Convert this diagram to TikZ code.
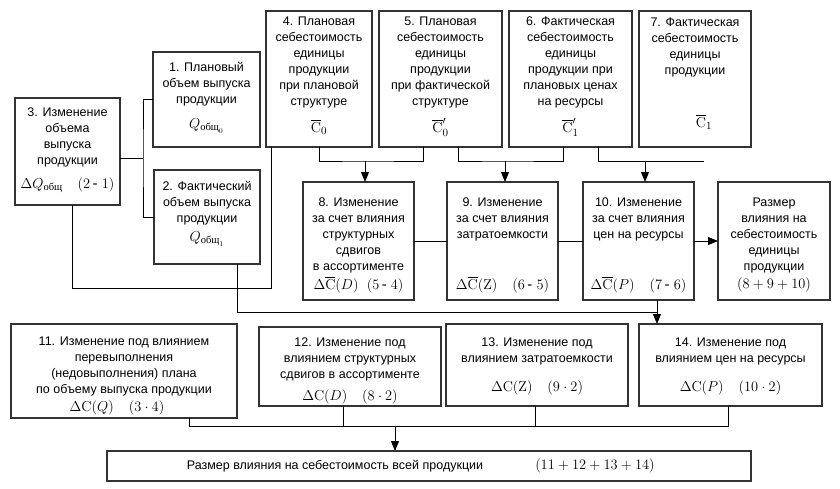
\documentclass[tikz,border=0pt]{standalone}
\usepackage{amsmath}
\usepackage[no-math]{fontspec}
\setmainfont{Liberation Sans}
\newfontfamily\cyrserif{Liberation Serif}
\usetikzlibrary{arrows.meta}
\newcommand{\obsh}{\text{\cyrserif общ}}
\newcommand{\Cb}{\overline{\mathrm{C}}}

\begin{document}
\begin{tikzpicture}[x=1pt,y=-1pt,>={Triangle[length=10pt,width=8pt]},
  font=\fontsize{12.5}{16}\selectfont,line width=0.9pt,
  blk/.style={draw=black!80,line width=1.6pt,inner sep=0pt,outer sep=0pt},
  txt/.style={align=center,inner sep=0pt},
  frm/.style={inner sep=0pt,font=\fontsize{15}{16}\selectfont}]
\useasboundingbox (0,0) rectangle (840,488);
% boxes
\node[blk,minimum width=105pt,minimum height=107pt] (b3) at (67.5,151.5) {};
\node[blk,minimum width=107pt,minimum height=95pt] (b1) at (206.5,99.5) {};
\node[blk,minimum width=106pt,minimum height=94pt] (b2) at (207,217) {};
\node[blk,minimum width=106pt,minimum height=136pt] (b4) at (319,79) {};
\node[blk,minimum width=123pt,minimum height=136pt] (b5) at (440.5,79) {};
\node[blk,minimum width=123pt,minimum height=136pt] (b6) at (570.5,79) {};
\node[blk,minimum width=112pt,minimum height=136pt] (b7) at (695,79) {};
\node[blk,minimum width=111pt,minimum height=118pt] (b8) at (358.5,241) {};
\node[blk,minimum width=111pt,minimum height=118pt] (b9) at (502.5,241) {};
\node[blk,minimum width=111pt,minimum height=118pt] (b10) at (638.5,241) {};
\node[blk,minimum width=112pt,minimum height=118pt] (bsum) at (774,241) {};
\node[blk,minimum width=226pt,minimum height=94pt] (b11) at (124,371) {};
\node[blk,minimum width=182pt,minimum height=79pt] (b12) at (350,366.5) {};
\node[blk,minimum width=182pt,minimum height=82pt] (b13) at (537,365) {};
\node[blk,minimum width=183pt,minimum height=82pt] (b14) at (730.5,365) {};
\node[blk,minimum width=644pt,minimum height=30pt] (btot) at (429,466) {};
% texts
\node[txt] (t3) at (67.5,137) {3. Изменение\\объема\\выпуска\\продукции};
\node[frm] (f3) at (67.5,185) {$\Delta Q_{\obsh}\quad(2\,\text{-}\ 1)$};
\node[txt] (t1) at (206.5,84) {1. Плановый\\объем выпуска\\продукции};
\node[frm] (f1) at (206.5,126) {$Q_{\obsh_0}$};
\node[txt] (t2) at (207,203) {2. Фактический\\объем выпуска\\продукции};
\node[frm] (f2) at (207,239) {$Q_{\obsh_1}$};
\node[txt] (t4) at (319,62.5) {4. Плановая\\себестоимость\\единицы\\продукции\\при плановой\\структуре};
\node[frm] (f4) at (319,127) {$\Cb_0$};
\node[txt] (t5) at (440.5,62.5) {5. Плановая\\себестоимость\\единицы\\продукции\\при фактической\\структуре};
\node[frm] (f5) at (440.5,127) {$\Cb_0'$};
\node[txt] (t6) at (570.5,62.5) {6. Фактическая\\себестоимость\\единицы\\продукции при\\плановых ценах\\на ресурсы};
\node[frm] (f6) at (570.5,127) {$\Cb_1'$};
\node[txt] (t7) at (695,47.5) {7. Фактическая\\себестоимость\\единицы\\продукции};
\node[frm] (f7) at (704,122) {$\Cb_1$};
\node[txt] (t8) at (358.5,235) {8. Изменение\\за счет влияния\\структурных\\сдвигов\\в ассортименте};
\node[frm] (f8) at (358.5,285) {$\Delta\Cb(D)\ \ (5\,\text{-}\ 4)$};
\node[txt] (t9) at (502.5,219) {9. Изменение\\за счет влияния\\затратоемкости};
\node[frm] (f9) at (502.5,285) {$\Delta\Cb(\mathrm{Z})\quad(6\,\text{-}\ 5)$};
\node[txt] (t10) at (638.5,219) {10. Изменение\\за счет влияния\\цен на ресурсы};
\node[frm] (f10) at (638.5,285) {$\Delta\Cb(P)\quad(7\,\text{-}\ 6)$};
\node[txt] (tsum) at (774,235) {Размер\\влияния на\\себестоимость\\единицы\\продукции};
\node[frm] (fsum) at (774,285) {$(8+9+10)$};
\node[txt] (t11) at (124,366.5) {11. Изменение под влиянием\\перевыполнения\\(недовыполнения) плана\\по объему выпуска продукции};
\node[frm] (f11) at (117,408) {$\Delta\mathrm{C}(Q)\quad(3\cdot4)$};
\node[txt] (t12) at (350,359) {12. Изменение под\\влиянием структурных\\сдвигов в ассортименте};
\node[frm] (f12) at (350,397) {$\Delta\mathrm{C}(D)\quad(8\cdot2)$};
\node[txt] (t13) at (537,351) {13. Изменение под\\влиянием затратоемкости};
\node[frm] (f13) at (537,388) {$\Delta\mathrm{C}(\mathrm{Z})\quad(9\cdot2)$};
\node[txt] (t14) at (730.5,351) {14. Изменение под\\влиянием цен на ресурсы};
\node[frm] (f14) at (730.5,388) {$\Delta\mathrm{C}(P)\quad(10\cdot2)$};
\node[txt] (ttot) at (335,466) {Размер влияния на себестоимость всей продукции};
\node[frm] (ftot) at (595,466) {$(11+12+13+14)$};
% connectors
\coordinate (k3) at (143,158);
\draw (b1.west) -| (k3) |- (b2.west);
\draw (b3.east |- k3) -- (k3);
\coordinate (r4) at (271,288);
\draw ([xshift=4.5pt]b3.south) |- (r4) -- (r4 |- b4.south);
\coordinate (r14) at (657,312);
\draw ([xshift=30pt]b2.south) |- (r14);
\draw[->] (r14 |- b10.south) -- (r14 |- b14.north);
\coordinate (j8) at (365,161);
\coordinate (j9) at (505,161);
\coordinate (j10) at (645,161);
\coordinate (e7) at (704,161);
\draw (b4.south) |- (j8) -| ([xshift=-17.5pt]b5.south);
\draw ([xshift=17.5pt]b5.south) |- (j9) -| ([xshift=-7.5pt]b6.south);
\draw ([xshift=27.5pt]b6.south) |- (e7);
\draw[->] (j8) -- (j8 |- b8.north);
\draw[->] (j9) -- (j9 |- b9.north);
\draw[->] (j10) -- (j10 |- b10.north);
\draw (b8.east) -- (b9.west);
\draw (b9.east) -- (b10.west);
\draw[->] (b10.east) -- (bsum.west);
\coordinate (j15) at (395,426);
\draw ([xshift=65pt]b11.south) |- ([xshift=-2.5pt]b14.south |- j15) -- ([xshift=-2.5pt]b14.south);
\draw ([xshift=-7pt]b12.south) -- ([xshift=-7pt]b12.south |- j15);
\draw ([xshift=-2pt]b13.south) -- ([xshift=-2pt]b13.south |- j15);
\draw[->] (j15) -- (j15 |- btot.north);
\end{tikzpicture}
\end{document}
